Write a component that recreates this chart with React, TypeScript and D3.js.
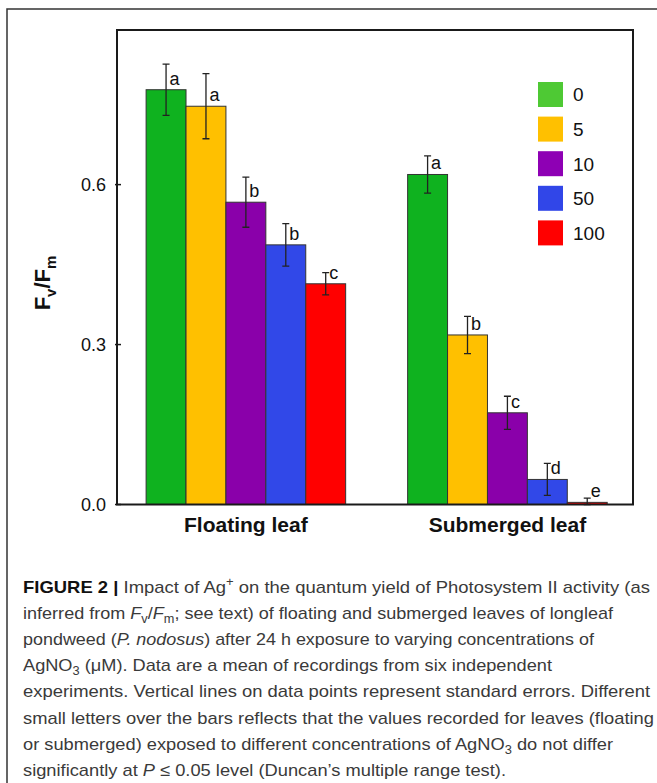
import * as d3 from "d3";
import { useEffect, useRef } from "react";

const groups = ["Floating leaf", "Submerged leaf"];
const concentrations = ["0", "5", "10", "50", "100"];
const floatingMeans = [0.778, 0.747, 0.567, 0.487, 0.414];
const floatingSE = [0.048, 0.061, 0.047, 0.04, 0.021];
const floatingLetters = ["a", "a", "b", "b", "c"];
const submergedMeans = [0.619, 0.318, 0.172, 0.047, 0.004];
const submergedSE = [0.035, 0.035, 0.031, 0.03, 0.008];
const submergedLetters = ["a", "b", "c", "d", "e"];
const yTicks = [0, 0.3, 0.6];
const barColors = ["#0fb21f", "#ffc000", "#8a00aa", "#3148e8", "#ff0000"];
const legendColors = ["#4ec934", "#ffc000", "#8e00b4", "#3146e8", "#ff0000"];

// caption lines: [text, kind] segments
type Seg = [string, string];
const captionLines: Seg[][] = [
	[["FIGURE 2 | ", "b"], ["Impact of Ag", ""], ["+", "sup"], [" on the quantum yield of Photosystem II activity (as", ""]],
	[["inferred from ", ""], ["F", "i"], ["v", "sub"], ["/", ""], ["F", "i"], ["m", "sub"], ["; see text) of floating and submerged leaves of longleaf", ""]],
	[["pondweed (", ""], ["P. nodosus", "i"], [") after 24 h exposure to varying concentrations of", ""]],
	[["AgNO", ""], ["3", "sub"], [" (\u03bcM). Data are a mean of recordings from six independent", ""]],
	[["experiments. Vertical lines on data points represent standard errors. Different", ""]],
	[["small letters over the bars reflects that the values recorded for leaves (floating", ""]],
	[["or submerged) exposed to different concentrations of AgNO", ""], ["3", "sub"], [" do not differ", ""]],
	[["significantly at ", ""], ["P", "i"], [" \u2264 0.05 level (Duncan\u2019s multiple range test).", ""]],
];
const captionWidths = [627, 590, 571, 529, 627, 631, 590, 483];

function App() {
	const ref = useRef<SVGSVGElement>(null);

	useEffect(() => {
		const svg = d3.select(ref.current);
		svg.selectAll("*").remove();
		const left = 117;
		const right = 633;
		const top = 30;
		const bottom = 504.5;
		const font = "'Liberation Sans', Arial, sans-serif";

		// outer figure frame
		svg.append("path")
			.attr("d", "M7,790 L7,9 L665,9")
			.attr("fill", "none")
			.attr("stroke", "#333")
			.attr("stroke-width", 1.5);

		const x0 = d3
			.scaleBand()
			.domain(groups)
			.range([left, right])
			.paddingInner(0.237)
			.paddingOuter(0.105)
			.align(0.53);
		const x1 = d3
			.scaleBand()
			.domain(concentrations)
			.range([0, x0.bandwidth()]);
		const y = d3.scaleLinear().domain([0, 0.89]).range([bottom, top]);

		const rows = [
			{ group: groups[0], means: floatingMeans, se: floatingSE, letters: floatingLetters },
			{ group: groups[1], means: submergedMeans, se: submergedSE, letters: submergedLetters },
		];

		rows.forEach((row) => {
			const g = svg.append("g").attr("transform", "translate(" + x0(row.group) + ",0)");
			concentrations.forEach((c, i) => {
				const bx = x1(c) as number;
				const cx = bx + x1.bandwidth() / 2;
				const v = row.means[i];
				g.append("rect")
					.attr("x", bx)
					.attr("y", y(v))
					.attr("width", x1.bandwidth())
					.attr("height", bottom - y(v))
					.attr("fill", barColors[i])
					.attr("stroke", "#333")
					.attr("stroke-width", 1);
				const hi = y(v + row.se[i]);
				const lo = y(Math.max(0, v - row.se[i]));
				g.append("path")
					.attr("d", `M${cx},${hi}L${cx},${lo}M${cx - 3.5},${hi}L${cx + 3.5},${hi}M${cx - 3.5},${lo}L${cx + 3.5},${lo}`)
					.attr("stroke", "#222")
					.attr("stroke-width", 1.3)
					.attr("fill", "none");
				g.append("text")
					.attr("x", cx + 3.5)
					.attr("y", y(v) - 5)
					.style("font-family", font)
					.style("font-size", "18px")
					.attr("fill", "#111")
					.text(row.letters[i]);
			});
			svg.append("text")
				.attr("x", (x0(row.group) as number) + x0.bandwidth() / 2)
				.attr("y", 532)
				.attr("text-anchor", "middle")
				.style("font-family", font)
				.style("font-size", "21px")
				.style("font-weight", "bold")
				.attr("fill", "#111")
				.text(row.group);
		});

		// frame
		svg.append("rect")
			.attr("x", left)
			.attr("y", top)
			.attr("width", right - left)
			.attr("height", bottom - top)
			.attr("fill", "none")
			.attr("stroke", "#1a1a1a")
			.attr("stroke-width", 2);

		// y ticks
		yTicks.forEach((t) => {
			svg.append("line")
				.attr("x1", left - 2)
				.attr("x2", left + 4)
				.attr("y1", y(t))
				.attr("y2", y(t))
				.attr("stroke", "#1a1a1a")
				.attr("stroke-width", 1.5);
			svg.append("text")
				.attr("x", 106)
				.attr("y", y(t))
				.attr("dy", "0.36em")
				.attr("text-anchor", "end")
				.style("font-family", font)
				.style("font-size", "18px")
				.attr("fill", "#111")
				.text(d3.format(".1f")(t));
		});

		// y label
		const yl = svg.append("text")
			.attr("transform", "translate(50,283) rotate(-90)")
			.attr("text-anchor", "middle")
			.style("font-family", font)
			.style("font-size", "22px")
			.style("font-weight", "bold")
			.attr("fill", "#111");
		yl.append("tspan").text("F");
		yl.append("tspan").style("baseline-shift", "-6px").style("font-size", "15px").text("v");
		yl.append("tspan").text("/F");
		yl.append("tspan").style("baseline-shift", "-6px").style("font-size", "15px").text("m");

		// legend
		concentrations.forEach((c, i) => {
			const ly = 82 + i * 34.6;
			svg.append("rect")
				.attr("x", 538)
				.attr("y", ly)
				.attr("width", 25)
				.attr("height", 25)
				.attr("fill", legendColors[i]);
			svg.append("text")
				.attr("x", 573)
				.attr("y", ly + 12.5)
				.attr("dy", "0.36em")
				.style("font-family", font)
				.style("font-size", "19px")
				.attr("fill", "#111")
				.text(c);
		});

		// caption
		captionLines.forEach((line, li) => {
			const t = svg.append("text")
				.attr("x", 23)
				.attr("y", 593 + li * 26.1)
				.attr("textLength", captionWidths[li])
				.attr("lengthAdjust", "spacingAndGlyphs")
				.style("font-family", font)
				.style("font-size", "17px")
				.attr("fill", "#3a3a3a");
			line.forEach(([s, kind]) => {
				const ts = t.append("tspan").text(s);
				if (kind === "b") ts.style("font-weight", "bold").attr("fill", "#111");
				if (kind === "i") ts.style("font-style", "italic");
				if (kind === "sub") ts.style("font-size", "12px").style("baseline-shift", "-4px");
				if (kind === "sup") ts.style("font-size", "12px").style("baseline-shift", "7px");
			});
		});
	}, []);

	return (
		<svg
			ref={ref}
			width={657}
			height={783}
			style={{ position: "absolute", left: 0, top: 0, background: "#fff" }}
		></svg>
	);
}

export default App;
